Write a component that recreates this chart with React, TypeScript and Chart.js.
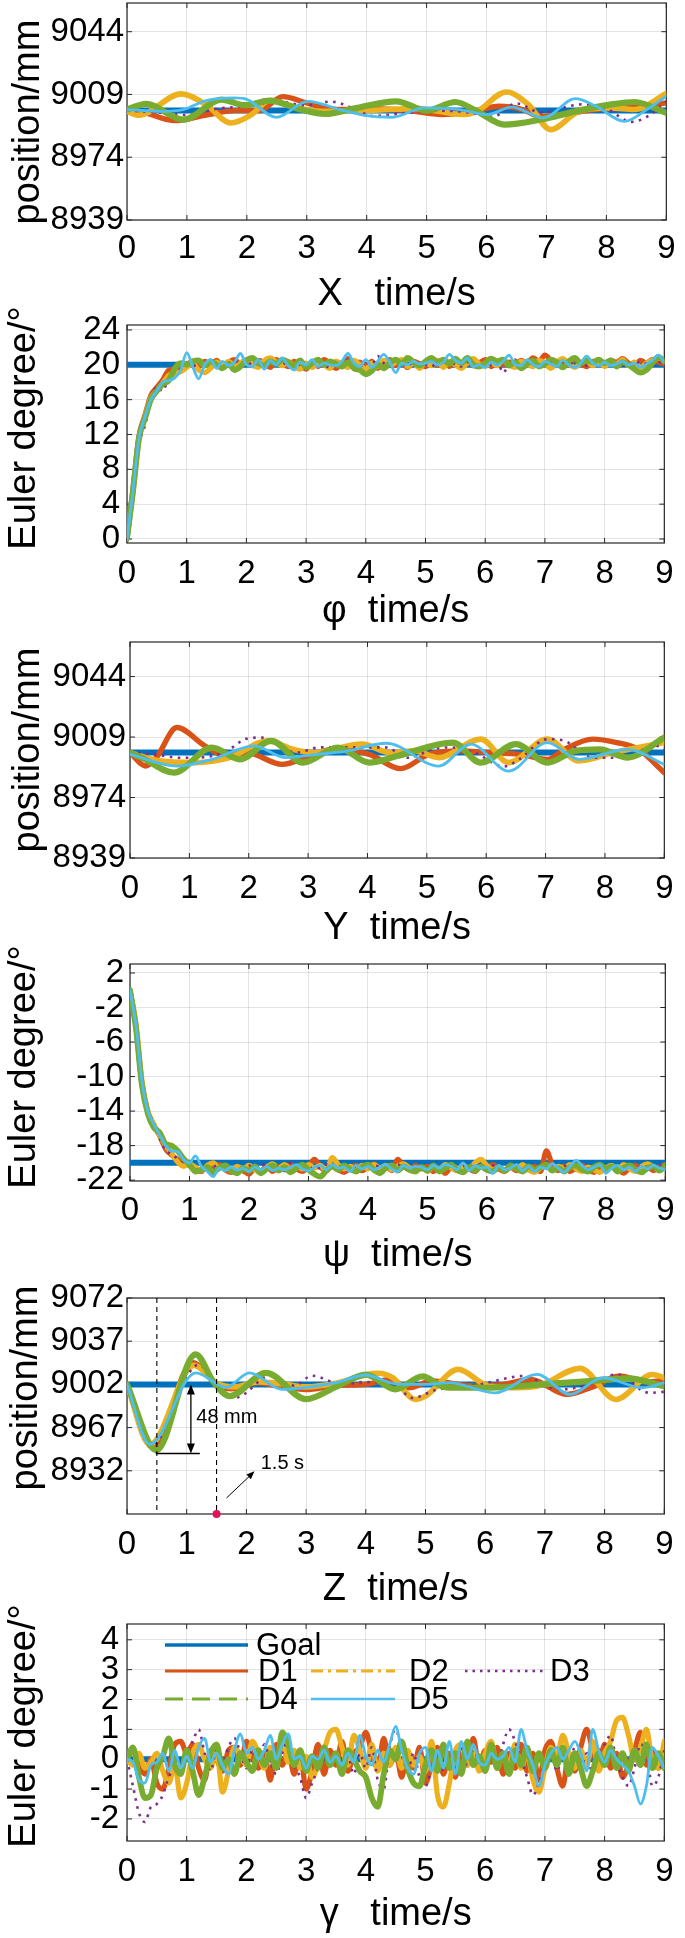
import React, { useEffect, useRef } from "react";
import { Chart, registerables } from "chart.js";

Chart.register(...registerables);

const FONT = '"Liberation Sans", Arial, Helvetica, sans-serif';
const PAGE_W = 685;
const PAGE_H = 1938;
const TOP_PAD = 28;
const TICK_FONT = 33;
const TITLE_FONT = 38;

// ---------- axes ----------
const TIME_TICKS = [0, 1, 2, 3, 4, 5, 6, 7, 8, 9];
const T_MIN = 0;
const T_MAX = 9;
const GRID_STEP = 0.1;

const POS_TICKS_XY = [8939, 8974, 9009, 9044];
const POS_TICKS_Z = [8932, 8967, 9002, 9037, 9072];
const PHI_TICKS = [0, 4, 8, 12, 16, 20, 24];
const PSI_TICKS = [-22, -18, -14, -10, -6, -2, 2];
const GAMMA_TICKS = [-2, -1, 0, 1, 2, 3, 4];

// ---------- goals ----------
const GOAL_X = 9000;
const GOAL_Y = 9000;
const GOAL_Z = 9002;
const GOAL_PHI = 20;
const GOAL_PSI = -20;
const GOAL_GAMMA = 0;

// ---------- X position (time s, mm) ----------
const X_D1 = [[0, 9000], [0.3, 8998.7], [0.8, 8994.4], [1.3, 8997.4], [1.8, 9000], [2.2, 9000], [2.6, 9007.8], [3.0, 9004.3], [3.5, 9000.6], [4.1, 9001], [4.7, 9000], [5.25, 8997.8], [5.8, 8999.6], [6.2, 9002.4], [6.6, 9000.6], [6.9, 8996.8], [7.3, 8998], [7.8, 9000.6], [8.5, 9001.9], [9, 9004.3]];
const X_D2 = [[0, 8999.6], [0.2, 8997.4], [0.9, 9009.3], [1.32, 9003.3], [1.73, 8993.1], [2.08, 8997.8], [2.38, 9005.6], [2.8, 9001.9], [3.25, 8999.6], [4.1, 9000.2], [4.85, 9001.1], [5.6, 8997.8], [5.84, 8999.6], [6.33, 9010.4], [6.7, 9003.3], [7.07, 8989.4], [7.54, 8999.6], [8.06, 9001.5], [8.47, 9000.6], [9, 9009.5]];
const X_D3 = [[0, 9000], [0.5, 8999], [1.0, 8997.5], [1.5, 9001], [2.0, 9002.5], [2.5, 9005], [3.0, 9003], [3.4, 9005], [3.8, 9001], [4.1, 8997], [4.6, 8998.5], [5.2, 9000], [5.7, 8999], [6.1, 8996.5], [6.5, 9004], [6.9, 8999], [7.6, 9003.5], [8.0, 9001], [8.42, 8993.7], [8.7, 8997], [9, 9005]];
const X_D4 = [[0, 9000.6], [0.32, 9003.7], [0.94, 8995], [1.58, 9006.1], [1.96, 9003], [2.38, 9005.6], [2.9, 9000.6], [3.3, 8998.1], [3.84, 9001.5], [4.49, 9005.2], [5.0, 9000], [5.48, 9004.8], [5.84, 8999.6], [6.3, 8992.2], [6.9, 8995], [7.54, 9000], [8.06, 9003.3], [8.47, 9004.8], [9, 8998.7]];
const X_D5 = [[0, 9000.6], [0.56, 8999.6], [0.94, 9000.6], [1.32, 9005.6], [1.79, 9007.1], [2.0, 9006.3], [2.49, 8996.3], [3.02, 9005.2], [3.55, 9000.6], [3.96, 8997.4], [4.43, 8996.3], [4.96, 9001.5], [5.54, 9000.6], [6.01, 8997.8], [6.42, 9001.9], [6.95, 8995.9], [7.48, 9006.7], [7.83, 9002.4], [8.3, 8994], [8.65, 9000], [9, 9008]];

// ---------- Y position ----------
const Y_D1 = [[0, 9000], [0.26, 8992.2], [0.44, 8997], [0.79, 9014.5], [1.26, 9003.9], [1.62, 8998], [1.97, 9000], [2.56, 8993.2], [3.09, 8999], [3.44, 9001.9], [4.03, 8999], [4.56, 8990.7], [5.03, 8999], [5.56, 9001], [6.03, 9000], [6.56, 8999], [7.03, 8996.1], [7.32, 9001.9], [7.79, 9007.8], [8.2, 9005.8], [8.56, 9001.9], [9, 8988.4]];
const Y_D2 = [[0, 9000], [0.5, 8995.2], [1.09, 8994.2], [1.68, 8997.1], [2.32, 9006.8], [2.74, 9001.9], [3.09, 9000], [3.91, 9004.9], [4.38, 9000], [4.79, 9001], [5.2, 8997.1], [5.91, 9007.8], [6.38, 8994.2], [7.03, 9007.8], [7.56, 8995.2], [8.15, 9000], [9, 9005.8]];
const Y_D3 = [[0, 9000], [0.4, 8999], [0.85, 8997], [1.3, 8997.5], [1.68, 9002], [1.94, 9007.8], [2.2, 9008.7], [2.8, 9000], [3.2, 9003], [3.9, 9003], [4.3, 9003], [4.7, 8997], [5.1, 9002], [5.4, 9003], [5.8, 9000], [6.3, 8992], [6.55, 8996], [7.03, 9007.8], [7.3, 9007], [7.8, 8997], [8.3, 8997], [8.85, 9004], [9, 9002]];
const Y_D4 = [[0, 9000], [0.2, 8997], [0.74, 8988.4], [1.38, 9002.9], [1.85, 8996.1], [2.38, 9006.8], [2.91, 8994.2], [3.5, 9002.9], [4.03, 8994.2], [4.5, 8998], [5.44, 9005.8], [5.91, 8994.2], [6.5, 9004.9], [7.03, 8994.2], [7.5, 9001], [7.91, 9001.9], [8.38, 8997.1], [9, 9008.7]];
const Y_D5 = [[0, 8999], [0.79, 8992.2], [1.38, 8996.1], [2.09, 9003.9], [2.62, 8997.1], [3.15, 8999], [3.6, 9000.5], [4.32, 9005.4], [5.2, 8992.2], [5.74, 9004.9], [6.38, 8989.3], [7.03, 9005.8], [7.56, 8996.1], [8.38, 9001.9], [9, 8993.2]];

// ---------- Z position ----------
const Z_D1 = [[0, 9002], [0.43, 8951], [1.1, 9019.6], [1.5, 9002], [1.75, 8998.5], [2.2, 9003.5], [2.5, 9001], [3.0, 8997.9], [3.5, 9001], [4.0, 9002], [4.4, 9006], [4.72, 8999.3], [5.11, 9004.7], [5.83, 9000.6], [6.3, 9002], [6.76, 9006], [7.37, 8993.9], [7.8, 9000], [8.25, 9008.8], [8.7, 9004], [9, 9005.2]];
const Z_D2 = [[0, 9002], [0.38, 8953.3], [1.12, 9017.4], [1.5, 9003], [1.8, 9000], [2.2, 9004], [2.6, 9002.5], [3.0, 9000], [3.5, 9003], [4.2, 9011], [4.45, 9007.4], [4.83, 8989.8], [5.0, 8992.5], [5.55, 9014.2], [5.99, 9002], [6.38, 8999.3], [6.87, 9000.6], [7.59, 9015], [8.19, 8989.8], [8.8, 9010], [9, 9007.4]];
const Z_D3 = [[0, 9002], [0.4, 8952], [1.2, 9018], [1.5, 9002], [1.83, 8991.6], [2.4, 9009], [2.8, 9001], [3.1, 9009], [3.6, 9002], [4.0, 9004], [4.5, 9001], [4.78, 8991], [5.17, 8997.5], [5.9, 9002], [6.65, 9008.8], [7.09, 8999.3], [7.3, 8998], [7.8, 9003], [8.19, 9010], [8.75, 8995.2], [9, 8996]];
const Z_D4 = [[0, 9002], [0.49, 8948.6], [1.15, 9026.4], [1.45, 9004], [1.72, 8992.5], [2.33, 9011.4], [3.0, 8990], [3.5, 9000], [4.0, 9010], [4.5, 8998], [4.95, 9008.5], [5.3, 9000], [5.55, 8999.3], [6.1, 8999.3], [6.93, 9002], [7.75, 9004.7], [8.4, 9006.9], [9, 9000.6]];
const Z_D5 = [[0, 9002], [0.38, 8953.3], [1.15, 9011.4], [1.66, 8999.6], [2.05, 9011.4], [2.6, 8997.9], [3.5, 9003.4], [4.0, 9009.6], [4.5, 9002.5], [5.0, 9002], [5.39, 9003.4], [6.16, 8995.2], [6.87, 9010.1], [7.42, 8993.9], [7.97, 9007.4], [8.63, 8999.3], [9, 9003.4]];

// ---------- phi (deg), sampled every 0.1 s ----------
const PHI_D1 = [
  0, 5.8, 11.8, 14.2, 16.5, 17.4, 18.3, 19.4, 19.5, 19.8,
  20.1, 20.3, 19.8, 20.4, 20.0, 20.5, 19.8, 20.3, 20.6, 20.1,
  20.4, 19.9, 20.5, 20.2, 19.7, 20.6, 20.2, 19.8, 20.4, 20.0,
  19.5, 20.3, 19.8, 20.6, 20.1, 19.6, 20.2, 20.7, 19.9, 20.3,
  19.8, 20.4, 19.6, 20.2, 20.6, 19.9, 20.3, 19.7, 20.4, 20.1,
  19.8, 20.5, 20.0, 20.6, 19.8, 20.3, 20.0, 20.5, 19.9, 20.2,
  20.6, 19.8, 20.4, 20.0, 20.3, 19.9, 20.5, 20.2, 20.8, 20.4,
  21.1, 20.5, 19.9, 20.3, 20.0, 20.6, 20.1, 19.8, 20.4, 20.2,
  20.0, 20.5, 20.3, 20.7, 20.2, 19.9, 20.5, 20.2, 20.6, 20.3,
  20.1,
];
const PHI_D2 = [
  0, 5.2, 11.2, 14.0, 16.2, 17.0, 17.9, 18.8, 19.0, 19.2,
  19.7, 20.2, 19.4, 19.1, 19.6, 20.3, 19.9, 20.4, 19.8, 20.2,
  20.6, 20.0, 19.7, 20.5, 20.8, 20.3, 19.9, 20.4, 19.8, 19.5,
  20.2, 19.7, 20.3, 20.0, 19.6, 20.4, 20.1, 19.7, 20.5, 20.0,
  19.5, 20.2, 19.8, 20.5, 19.9, 20.3, 20.6, 19.8, 20.2, 19.6,
  20.3, 19.9, 20.5, 19.7, 20.4, 20.0, 19.6, 20.2, 20.7, 20.1,
  19.8, 20.3, 19.9, 20.6, 20.0, 19.7, 20.4, 20.1, 19.8, 20.5,
  20.2, 19.6, 20.3, 20.7, 20.1, 19.7, 20.2, 20.5, 19.9, 20.3,
  19.8, 20.4, 20.1, 20.6, 19.9, 20.3, 19.7, 20.2, 20.5, 20.8,
  20.4,
];
const PHI_D3 = [
  0, 5.0, 10.8, 13.0, 15.8, 17.5, 17.0, 18.6, 19.1, 19.5,
  20.0, 19.8, 20.2, 19.9, 20.3, 20.0, 19.7, 20.2, 20.5, 20.0,
  19.8, 20.3, 20.0, 19.7, 20.4, 20.1, 20.3, 19.9, 20.2, 20.0,
  19.8, 20.2, 20.5, 20.0, 19.7, 20.3, 20.1, 20.6, 20.0, 19.8,
  20.2, 20.0, 21.0, 20.2, 19.8, 20.4, 20.0, 19.9, 20.3, 20.1,
  20.0, 19.8, 20.3, 20.1, 20.5, 20.0, 19.8, 20.3, 20.1, 19.9,
  20.2, 20.0, 20.4, 19.1, 20.1, 20.6, 19.9, 20.2, 20.0, 20.3,
  19.9, 20.2, 19.8, 20.1, 20.4, 20.0, 20.2, 19.9, 20.3, 20.1,
  20.0, 20.3, 20.1, 19.9, 20.2, 20.0, 20.4, 20.1, 19.9, 20.3,
  20.2,
];
const PHI_D4 = [
  0, 5.5, 11.6, 13.8, 16.0, 17.0, 17.8, 18.2, 19.6, 20.2,
  20.0, 20.4, 20.5, 19.9, 20.4, 20.0, 19.6, 20.1, 19.4, 19.8,
  20.5, 20.8, 20.2, 19.9, 20.4, 20.1, 20.6, 20.3, 19.9, 20.5,
  19.7, 20.2, 20.6, 20.0, 20.4, 20.1, 19.8, 20.3, 19.6, 19.4,
  18.9, 19.3, 20.0, 19.6, 20.2, 20.6, 20.1, 20.8, 20.3, 19.9,
  20.4, 20.8, 20.3, 20.6, 20.1, 20.7, 20.2, 20.8, 20.0, 19.8,
  20.2, 20.7, 20.4, 20.6, 19.9, 20.3, 19.6, 20.1, 20.5, 19.8,
  20.1, 20.6, 20.3, 19.7, 20.4, 20.8, 20.2, 20.5, 20.3, 20.6,
  20.2, 20.5, 19.8, 20.3, 20.0, 19.5, 19.1, 19.4, 20.2, 20.9,
  20.4,
];
const PHI_D5 = [
  0, 5.5, 11.5, 14.0, 16.0, 17.0, 18.0, 18.2, 18.5, 19.4,
  21.4, 19.8, 18.4, 20.0, 20.6, 19.6, 20.4, 19.9, 20.3, 21.3,
  20.0, 19.8, 20.6, 19.5, 20.5, 20.0, 20.8, 19.9, 19.4, 20.3,
  20.0, 20.6, 19.8, 20.2, 20.0, 19.9, 20.4, 21.3, 20.2, 19.8,
  20.6, 19.7, 20.4, 21.2, 20.3, 19.1, 20.2, 20.0, 20.4, 20.1,
  20.2, 20.4, 20.0, 20.3, 21.2, 20.5, 20.2, 20.8, 19.8, 20.0,
  19.7, 20.3, 20.0, 20.4, 21.1, 20.0, 19.9, 20.6, 20.0, 19.8,
  20.4, 20.1, 19.8, 20.5, 20.0, 19.7, 20.2, 21.0, 20.2, 19.9,
  20.3, 19.9, 20.1, 20.4, 20.0, 20.2, 19.7, 20.1, 20.5, 21.1,
  20.3,
];

// ---------- psi (deg), sampled every 0.1 s ----------
const PSI_D1 = [
  0, -4.2, -10.8, -14.1, -15.7, -16.9, -18.4, -19.1, -19.6, -19.9,
  -20.3, -20.8, -21.0, -20.4, -20.7, -20.2, -20.8, -21.1, -20.5, -20.9,
  -21.3, -20.6, -20.9, -20.4, -21.0, -20.5, -20.8, -20.2, -20.7, -21.0,
  -20.4, -19.6, -20.5, -20.9, -20.3, -20.8, -21.1, -20.6, -20.3, -20.9,
  -20.5, -20.1, -20.8, -20.4, -20.9, -19.6, -20.4, -20.8, -20.3, -20.7,
  -20.4, -21.0, -20.6, -21.2, -20.5, -20.9, -20.3, -20.7, -21.0, -20.4,
  -20.8, -20.2, -20.7, -21.0, -20.5, -20.9, -20.3, -20.8, -20.4, -21.0,
  -18.6, -20.2, -20.9, -20.4, -21.0, -20.6, -20.3, -20.8, -21.1, -20.5,
  -20.9, -20.4, -20.7, -21.2, -20.6, -20.3, -20.8, -20.4, -20.9, -20.5,
  -20.2,
];
const PSI_D2 = [
  0, -3.8, -10.4, -14.0, -15.5, -16.8, -18.0, -18.9, -19.9, -20.4,
  -20.1, -20.5, -20.9, -20.3, -20.0, -20.6, -20.3, -20.9, -20.4, -20.7,
  -20.3, -20.8, -21.2, -20.5, -20.1, -20.6, -20.2, -20.8, -20.4, -20.7,
  -20.2, -20.6, -20.3, -20.9, -19.4, -20.2, -20.7, -20.4, -20.8, -20.3,
  -20.7, -20.2, -20.6, -20.3, -20.8, -20.4, -20.1, -20.6, -20.9, -20.5,
  -21.0, -20.4, -20.8, -20.2, -20.6, -20.9, -20.3, -20.7, -20.0, -19.6,
  -20.3, -20.8, -20.5, -20.9, -20.4, -20.7, -20.2, -20.8, -21.1, -20.6,
  -20.3, -20.8, -20.4, -20.6, -20.2, -20.7, -21.0, -20.5, -20.8, -21.1,
  -20.6, -20.3, -20.8, -20.2, -20.7, -21.0, -20.4, -20.1, -20.5, -20.8,
  -20.6,
];
const PSI_D3 = [
  0, -4.0, -10.6, -13.8, -15.4, -17.2, -18.5, -19.0, -19.5, -19.9,
  -20.4, -20.8, -20.3, -20.9, -20.5, -20.2, -20.7, -20.4, -20.9, -20.5,
  -20.3, -20.6, -20.1, -20.5, -20.8, -20.3, -20.6, -20.0, -20.4, -20.7,
  -20.4, -20.8, -20.5, -20.2, -20.6, -20.3, -20.7, -20.4, -20.5, -20.3,
  -20.6, -20.3, -20.5, -20.8, -20.4, -20.2, -20.6, -20.4, -20.7, -20.3,
  -20.5, -20.8, -20.4, -20.6, -20.3, -20.7, -20.4, -20.2, -20.6, -20.4,
  -20.7, -20.3, -20.5, -20.2, -20.6, -20.4, -20.8, -20.3, -20.5, -20.6,
  -20.2, -20.5, -20.8, -20.4, -20.3, -20.6, -20.4, -20.7, -20.3, -20.5,
  -20.6, -20.3, -20.7, -20.4, -20.5, -20.2, -20.6, -20.4, -20.7, -20.3,
  -20.5,
];
const PSI_D4 = [
  0, -4.4, -11.0, -14.3, -15.9, -16.5, -17.8, -18.0, -18.6, -19.5,
  -20.2, -21.0, -20.8, -20.5, -21.1, -20.6, -20.3, -20.9, -21.2, -20.6,
  -20.9, -20.4, -21.2, -20.7, -20.3, -20.9, -20.5, -21.1, -20.6, -20.2,
  -20.8, -21.3, -21.6, -20.9, -20.4, -20.8, -20.3, -20.7, -21.0, -20.5,
  -20.2, -20.8, -21.2, -20.6, -20.3, -20.9, -20.4, -20.8, -21.0, -20.5,
  -20.9, -20.3, -21.0, -20.6, -20.2, -20.8, -21.1, -20.5, -20.9, -20.4,
  -20.8, -21.0, -20.5, -20.9, -20.3, -20.7, -21.0, -20.4, -20.8, -20.5,
  -20.2, -20.9, -20.6, -21.0, -20.5, -20.3, -20.8, -21.0, -20.5, -20.2,
  -20.7, -20.4, -21.0, -20.6, -20.3, -20.8, -21.1, -20.6, -20.4, -20.9,
  -20.3,
];
const PSI_D5 = [
  0, -4.0, -10.5, -14.0, -15.5, -16.8, -18.0, -18.6, -18.7, -19.6,
  -20.0, -19.2, -20.4, -21.0, -21.6, -20.6, -20.9, -20.5, -20.8, -20.6,
  -21.0, -20.5, -20.8, -20.4, -20.9, -20.6, -20.8, -20.5, -20.2, -20.7,
  -20.9, -20.5, -20.3, -20.8, -20.2, -20.6, -20.5, -21.0, -20.3, -20.7,
  -20.4, -20.8, -20.5, -20.2, -20.7, -21.0, -20.3, -20.6, -20.4, -20.5,
  -20.8, -20.3, -20.6, -20.2, -20.4, -20.8, -20.0, -20.9, -20.3, -20.6,
  -20.5, -21.2, -20.3, -20.8, -20.6, -20.2, -20.9, -20.4, -21.0, -20.5,
  -20.7, -20.1, -20.6, -21.1, -20.4, -19.7, -20.3, -20.8, -20.5, -20.2,
  -21.2, -20.6, -20.3, -20.8, -20.5, -21.0, -20.4, -20.7, -20.3, -20.6,
  -20.8,
];

// ---------- gamma (deg), sampled every 0.1 s ----------
const GAM_D1 = [
  0, 0.3, -0.2, -0.5, 0.0, -0.8, -1.0, -0.3, 0.5, 0.6,
  0.2, 0.5, -0.3, -0.7, 0.3, 0.0, -0.4, 0.3, 0.4, -0.2,
  0.6, 0.1, -0.3, 0.2, -0.7, 0.5, -0.2, 0.3, -0.5, 0.2,
  -1.0, -0.4, 0.5, -0.5, 0.3, -0.2, 0.6, -0.4, 0.2, 0.4,
  0.9, 0.2, -0.3, 0.7, -0.2, 0.3, -0.6, 0.2, -0.3, 0.4,
  -0.8, -0.2, 0.4, -0.5, 0.2, -0.6, 0.5, -0.2, 0.7, -0.3,
  0.3, -0.1, 0.4, -0.5, 0.2, -0.3, 0.5, -0.4, 0.2, -0.7,
  0.3, 0.6, -0.3, -0.9, 0.2, -0.4, 0.4, 1.0, 0.3, -0.2,
  0.5, -0.3, 0.2, -0.6, -0.2, 0.3, 0.9, -0.2, 0.3, -0.3,
  0.1,
];
const GAM_D2 = [
  0, -0.2, 0.2, -0.3, -0.1, 0.2, -0.4, -0.8, -0.2, -1.3,
  -0.8, 0.2, 0.5, 0.0, -0.3, 0.3, -1.1, -0.4, 0.4, 0.1,
  -0.2, 0.6, 0.2, -0.3, 0.4, -0.2, 0.5, -0.1, 0.3, -0.3,
  0.1, -0.6, -0.2, 0.3, 0.9, 1.0, 0.4, -0.2, 0.8, 0.3,
  -0.3, 0.5, -0.4, 0.2, -0.2, 0.4, -0.3, 0.3, -0.2, 0.1,
  -0.4, 0.6, -1.2, -1.6, -0.8, 0.3, 0.5, -0.2, 0.3, -0.4,
  0.2, 0.6, -0.3, 0.2, -0.2, 0.5, -0.3, 0.2, -0.7, -1.1,
  -0.3, 0.4, 0.1, 0.8, 0.2, -0.3, 0.3, -0.2, 0.6, -0.4,
  0.2, 0.6, 1.3, 1.4, 0.8, 0.0, 0.4, 1.0, -0.1, -0.3,
  0.6,
];
const GAM_D3 = [
  0, -0.9, -1.8, -2.1, -1.6, -1.5, -1.2, -0.6, -0.3, -0.1,
  0.3, 0.6, 1.0, 0.2, -0.4, 0.3, -0.2, 0.4, 0.7, 0.2,
  -0.3, 0.3, -0.2, 0.5, -0.1, -0.5, 0.2, 0.6, -0.2, -0.6,
  -1.3, -0.8, -0.3, 0.4, -0.2, 0.3, -0.4, 0.1, -0.5, 0.2,
  -0.3, 0.4, -0.7, -1.0, 0.4, 1.0, 0.3, -0.4, 0.2, -0.6,
  -0.9, -0.3, 0.3, -0.4, 0.1, -0.3, 0.4, -0.2, 0.3, -0.1,
  -0.4, 0.2, -0.3, 0.5, 1.0, 0.6, 0.0, -0.6, -1.2, -0.8,
  -0.2, 0.3, -0.4, 0.1, -0.2, 0.4, -0.3, 0.2, -0.5, 0.3,
  0.5, 0.8, -0.1, -0.6, -0.9, -0.3, 0.5, 0.2, -0.9, -0.6,
  0.3,
];
const GAM_D4 = [
  0, 0.4, -0.6, -1.3, -1.2, -0.3, 0.1, 0.7, -0.2, -0.5,
  0.3, -0.4, -1.2, -0.6, 0.2, 0.5, -0.3, 0.0, -0.5, 0.2,
  -0.1, -0.4, 0.3, -0.2, 0.2, -0.3, 0.9, 0.5, -0.2, 0.3,
  -0.4, 0.1, -0.3, 0.4, -0.2, 0.2, -0.5, 0.3, 0.0, -0.4,
  -0.6, -1.3, -1.6, -0.5, 0.3, 0.0, 0.6, -0.3, -0.8, -0.9,
  -0.2, 0.3, -0.4, 0.5, -0.3, 0.2, -0.5, 0.6, -0.2, 0.1,
  -0.4, 0.5, -0.3, 0.2, -0.5, 0.3, -0.2, 0.4, -0.4, 0.2,
  -0.3, 0.3, -0.2, 0.4, -0.5, 0.2, -0.3, -0.9, -0.4, 0.2,
  -0.2, 0.4, -0.3, 0.2, -0.4, 0.3, -0.2, 0.5, -0.3, 0.2,
  -0.3,
];
const GAM_D5 = [
  0, -0.1, -0.7, -0.8, -0.2, -0.1, 0.2, -0.4, 0.3, -0.3,
  0.1, -0.3, 0.4, 0.7, -0.1, 0.2, -0.2, -0.5, 0.3, 0.85,
  0.2, 0.4, 0.0, 0.3, 0.8, 0.0, 0.5, 0.85, 0.0, 0.1,
  -0.3, 0.1, 0.0, 0.3, -0.1, 0.1, -0.2, 0.2, -0.1, 0.8,
  0.1, -0.2, 0.3, -0.1, 0.5, 1.1, 0.3, -0.3, -0.5, 0.2,
  0.4, -0.4, 0.3, -0.3, 0.6, -0.5, 0.6, 0.0, 0.5, -0.1,
  -0.2, 0.2, 0.0, 0.1, 0.4, -0.1, 1.0, 0.3, -0.2, -0.9,
  -0.2, 0.2, 0.4, 0.0, 0.3, 0.6, 0.2, -0.4, 1.0, 0.3,
  -0.1, 0.3, 0.0, -0.2, -0.4, -0.9, -1.5, -0.9, 0.4, 0.1,
  -0.3,
];

// ---------- Z annotation values ----------
const Z_GUIDE_TIMES = [0.5, 1.5];
const Z_OVERSHOOT_T = 1.07;
const Z_OVERSHOOT_TOP = 9002;
const Z_OVERSHOOT_BOTTOM = 8946;
const Z_BASE_FROM_T = 0.48;
const Z_BASE_TO_T = 1.22;
const Z_LABEL_DROP = "48 mm";
const Z_LABEL_DROP_AT = [1.16, 8975];
const Z_LABEL_TIME = "1.5 s";
const Z_LABEL_TIME_AT = [2.24, 8938];
const Z_POINTER_FROM = [1.667, 8910];
const Z_POINTER_TO = [2.135, 8931.6];
const Z_SETTLE_T = 1.5;
const Z_SETTLE_V = 8897;

// ---------- styles ----------
const SERIES_NAMES = ["Goal", "D1", "D2", "D3", "D4", "D5"];
const SERIES_STYLE: Record<string, any> = {
  Goal: { color: "#0072BD", width: 6, dash: [], order: 6 },
  D1: { color: "#D95319", width: 5.4, dash: [], order: 5 },
  D2: { color: "#EDB120", width: 5.6, dash: [], order: 4 },
  D3: { color: "#7E2F8E", width: 2.6, dash: [2.6, 5.4], order: 3 },
  D4: { color: "#77AC30", width: 6.2, dash: [], order: 2 },
  D5: { color: "#4DBEEE", width: 2.8, dash: [], order: 1 },
};
const NOISY_WIDTH: Record<string, number> = { Goal: 6, D1: 5.2, D2: 5.2, D3: 2.6, D4: 5.8, D5: 2.8 };
const LEGEND_STYLE: Record<string, any> = {
  Goal: { width: 3.5, dash: [] },
  D1: { width: 2.8, dash: [] },
  D2: { width: 2.8, dash: [12, 5, 3, 5] },
  D3: { width: 2.5, dash: [2.5, 5] },
  D4: { width: 3, dash: [18, 9] },
  D5: { width: 2.6, dash: [] },
};
// legend layout in page pixels
const LEGEND_LAYOUT = [
  { name: "Goal", x1: 165, x2: 248, y: 1645, tx: 256 },
  { name: "D1", x1: 165, x2: 248, y: 1671, tx: 258 },
  { name: "D2", x1: 311, x2: 395, y: 1671, tx: 409 },
  { name: "D3", x1: 465, x2: 544, y: 1671, tx: 550 },
  { name: "D4", x1: 165, x2: 248, y: 1699, tx: 258 },
  { name: "D5", x1: 311, x2: 395, y: 1699, tx: 409 },
];

function pairsToPoints(p: number[][]) {
  return p.map(([x, y]) => ({ x, y }));
}
function gridToPoints(v: number[]) {
  return v.map((y, i) => ({ x: Math.round(i * GRID_STEP * 100) / 100, y }));
}
function goalPoints(g: number) {
  return [{ x: T_MIN, y: g }, { x: T_MAX, y: g }];
}

function buildDatasets(goal: number, series: any[], mode: "pairs" | "grid") {
  const conv: any = mode === "grid" ? gridToPoints : pairsToPoints;
  const all = [goalPoints(goal), ...series.map((s) => conv(s))];
  return all.map((data, i) => {
    const name = SERIES_NAMES[i];
    const st = SERIES_STYLE[name];
    return {
      label: name,
      data,
      borderColor: st.color,
      backgroundColor: st.color,
      borderWidth: mode === "grid" ? NOISY_WIDTH[name] : st.width,
      borderDash: st.dash,
      borderCapStyle: name === "D3" ? "butt" : "round",
      borderJoinStyle: "round",
      pointRadius: 0,
      fill: false,
      cubicInterpolationMode: "monotone",
      order: st.order,
    };
  });
}

const PANELS: any[] = [
  {
    key: "X", plot: { left: 127, right: 674, top: 3, bottom: 220 }, yMin: 8939, yMax: 9060, yTicks: POS_TICKS_XY,
    yTickPad: 3, xTickPad: 9.5, titleGap: 75, xTitle: "X   time/s", yTitle: "position/mm", yTitleX: 28.5, yTitleY: 122,
    datasets: buildDatasets(GOAL_X, [X_D1, X_D2, X_D3, X_D4, X_D5], "pairs"),
  },
  {
    key: "phi", plot: { left: 127, right: 674, top: 325, bottom: 543 }, yMin: -0.46, yMax: 24.57, yTicks: PHI_TICKS,
    yTickPad: 7, xTickPad: 11.5, titleGap: 69, xTitle: "φ  time/s", yTitle: "Euler degree/°", yTitleX: 24.5, yTitleY: 428,
    datasets: buildDatasets(GOAL_PHI, [PHI_D1, PHI_D2, PHI_D3, PHI_D4, PHI_D5], "grid"),
  },
  {
    key: "Y", plot: { left: 130, right: 676, top: 642, bottom: 858 }, yMin: 8939, yMax: 9064, yTicks: POS_TICKS_XY,
    yTickPad: 4, xTickPad: 11.5, titleGap: 71, xTitle: "Y  time/s", yTitle: "position/mm", yTitleX: 28.5, yTitleY: 750,
    datasets: buildDatasets(GOAL_Y, [Y_D1, Y_D2, Y_D3, Y_D4, Y_D5], "pairs"),
  },
  {
    key: "psi", plot: { left: 130, right: 676, top: 964, bottom: 1181 }, yMin: -22.1, yMax: 3.04, yTicks: PSI_TICKS,
    yTickPad: 6, xTickPad: 10.5, titleGap: 75, xTitle: "ψ  time/s", yTitle: "Euler degree/°", yTitleX: 24.5, yTitleY: 1067,
    datasets: buildDatasets(GOAL_PSI, [PSI_D1, PSI_D2, PSI_D3, PSI_D4, PSI_D5], "grid"),
  },
  {
    key: "Z", plot: { left: 127, right: 674, top: 1298, bottom: 1514 }, yMin: 8897, yMax: 9072, yTicks: POS_TICKS_Z,
    yTickPad: 3, xTickPad: 11.5, titleGap: 76, xTitle: "Z  time/s", yTitle: "position/mm", yTitleX: 26.5, yTitleY: 1388,
    datasets: [
      ...buildDatasets(GOAL_Z, [Z_D1, Z_D2, Z_D3, Z_D4, Z_D5], "pairs"),
      {
        label: "settle", data: [{ x: Z_SETTLE_T, y: Z_SETTLE_V }], showLine: false, pointRadius: 4, pointBorderWidth: 0,
        pointBackgroundColor: "#E3135A", borderColor: "#E3135A", backgroundColor: "#E3135A", clip: false, order: 0,
      },
    ],
    annotate: true,
  },
  {
    key: "gamma", plot: { left: 127, right: 674, top: 1624, bottom: 1841 }, yMin: -2.74, yMax: 4.53, yTicks: GAMMA_TICKS,
    yTickPad: 8, xTickPad: 11.5, titleGap: 74, xTitle: "γ   time/s", yTitle: "Euler degree/°", yTitleX: 24.5, yTitleY: 1726,
    datasets: buildDatasets(GOAL_GAMMA, [GAM_D1, GAM_D2, GAM_D3, GAM_D4, GAM_D5], "grid"),
    legend: true,
  },
];

const framePlugin = {
  id: "frame",
  beforeDatasetsDraw(chart: any) {
    const { ctx, chartArea: a, scales } = chart;
    ctx.save();
    ctx.strokeStyle = "#262626";
    ctx.lineWidth = 1.2;
    ctx.strokeRect(a.left, a.top, a.right - a.left, a.bottom - a.top);
    ctx.lineWidth = 1;
    const L = 5;
    ctx.beginPath();
    scales.x.ticks.forEach((t: any) => {
      const px = scales.x.getPixelForValue(t.value);
      ctx.moveTo(px, a.bottom); ctx.lineTo(px, a.bottom - L);
      ctx.moveTo(px, a.top); ctx.lineTo(px, a.top + L);
    });
    scales.y.ticks.forEach((t: any) => {
      const py = scales.y.getPixelForValue(t.value);
      ctx.moveTo(a.left, py); ctx.lineTo(a.left + L, py);
      ctx.moveTo(a.right, py); ctx.lineTo(a.right - L, py);
    });
    ctx.stroke();
    ctx.restore();
  },
};

const yTitlePlugin = {
  id: "yTitle",
  afterDraw(chart: any, _args: any, opts: any) {
    const { ctx } = chart;
    ctx.save();
    ctx.translate(opts.x, opts.y);
    ctx.rotate(-Math.PI / 2);
    ctx.font = `${TITLE_FONT}px ${FONT}`;
    ctx.fillStyle = "#000";
    ctx.textAlign = "center";
    ctx.textBaseline = "middle";
    ctx.fillText(opts.text, 0, 0);
    ctx.restore();
  },
};

function arrowHead(ctx: any, x0: number, y0: number, x1: number, y1: number, len: number, half: number) {
  const ang = Math.atan2(y1 - y0, x1 - x0);
  ctx.beginPath();
  ctx.moveTo(x1, y1);
  ctx.lineTo(x1 - len * Math.cos(ang) + half * Math.sin(ang), y1 - len * Math.sin(ang) - half * Math.cos(ang));
  ctx.lineTo(x1 - len * Math.cos(ang) - half * Math.sin(ang), y1 - len * Math.sin(ang) + half * Math.cos(ang));
  ctx.closePath();
  ctx.fill();
}

const zAnnotationPlugin = {
  id: "zNotes",
  afterDatasetsDraw(chart: any) {
    const { ctx, chartArea: a, scales } = chart;
    const X = (t: number) => scales.x.getPixelForValue(t);
    const Y = (v: number) => scales.y.getPixelForValue(v);
    ctx.save();
    ctx.strokeStyle = "#000";
    ctx.fillStyle = "#000";
    ctx.lineWidth = 1.1;
    ctx.setLineDash([5, 4]);
    Z_GUIDE_TIMES.forEach((t) => {
      ctx.beginPath();
      ctx.moveTo(X(t), a.top);
      ctx.lineTo(X(t), a.bottom);
      ctx.stroke();
    });
    ctx.setLineDash([]);
    ctx.lineWidth = 1.3;
    const ax = X(Z_OVERSHOOT_T);
    const yTop = Y(Z_OVERSHOOT_TOP);
    const yBot = Y(Z_OVERSHOOT_BOTTOM);
    ctx.beginPath();
    ctx.moveTo(ax, yTop + 6);
    ctx.lineTo(ax, yBot - 6);
    ctx.stroke();
    arrowHead(ctx, ax, yBot, ax, yTop, 10, 4);
    arrowHead(ctx, ax, yTop, ax, yBot, 10, 4);
    ctx.beginPath();
    ctx.moveTo(X(Z_BASE_FROM_T), yBot);
    ctx.lineTo(X(Z_BASE_TO_T), yBot);
    ctx.stroke();
    ctx.lineWidth = 1;
    const px0 = X(Z_POINTER_FROM[0]), py0 = Y(Z_POINTER_FROM[1]);
    const px1 = X(Z_POINTER_TO[0]), py1 = Y(Z_POINTER_TO[1]);
    ctx.beginPath();
    ctx.moveTo(px0, py0);
    ctx.lineTo(px1 - 4, py1 + 4);
    ctx.stroke();
    arrowHead(ctx, px0, py0, px1, py1, 8, 3.2);
    ctx.font = `20px ${FONT}`;
    ctx.textAlign = "left";
    ctx.textBaseline = "middle";
    ctx.fillText(Z_LABEL_DROP, X(Z_LABEL_DROP_AT[0]), Y(Z_LABEL_DROP_AT[1]));
    ctx.fillText(Z_LABEL_TIME, X(Z_LABEL_TIME_AT[0]), Y(Z_LABEL_TIME_AT[1]));
    ctx.restore();
  },
};

const legendPlugin = {
  id: "lineLegend",
  afterDatasetsDraw(chart: any, _args: any, opts: any) {
    const { ctx } = chart;
    const off = opts.offsetY;
    ctx.save();
    LEGEND_LAYOUT.forEach((it) => {
      const ds = chart.data.datasets.find((d: any) => d.label === it.name);
      const ls = LEGEND_STYLE[it.name];
      ctx.strokeStyle = ds.borderColor;
      ctx.lineWidth = ls.width;
      ctx.setLineDash(ls.dash);
      ctx.lineCap = "butt";
      ctx.beginPath();
      ctx.moveTo(it.x1, it.y - off);
      ctx.lineTo(it.x2, it.y - off);
      ctx.stroke();
      ctx.setLineDash([]);
      ctx.fillStyle = "#000";
      ctx.font = `31px ${FONT}`;
      ctx.textAlign = "left";
      ctx.textBaseline = "middle";
      ctx.fillText(it.name, it.tx, it.y - off + 1);
    });
    ctx.restore();
  },
};

function Panel({ cfg }: { cfg: any }) {
  const ref = useRef<HTMLCanvasElement | null>(null);
  const canvasTop = cfg.plot.top - TOP_PAD;
  const xAxisH = cfg.titleGap + 24;
  const canvasH = TOP_PAD + (cfg.plot.bottom - cfg.plot.top) + xAxisH;

  useEffect(() => {
    if (!ref.current) return;
    const plugins: any[] = [framePlugin, yTitlePlugin];
    if (cfg.annotate) plugins.push(zAnnotationPlugin);
    if (cfg.legend) plugins.push(legendPlugin);
    const gridColor = "rgba(0,0,0,0.11)";
    const chart = new Chart(ref.current, {
      type: "line",
      data: { datasets: cfg.datasets },
      plugins,
      options: {
        animation: false,
        responsive: false,
        maintainAspectRatio: false,
        devicePixelRatio: 1,
        events: [],
        layout: { padding: { top: TOP_PAD, right: PAGE_W - cfg.plot.right, bottom: 0, left: 0 } },
        plugins: {
          legend: { display: false },
          tooltip: { enabled: false },
          yTitle: { text: cfg.yTitle, x: cfg.yTitleX, y: cfg.yTitleY - canvasTop },
          lineLegend: { offsetY: canvasTop },
        } as any,
        scales: {
          x: {
            type: "linear",
            min: T_MIN,
            max: T_MAX,
            afterBuildTicks: (s: any) => { s.ticks = TIME_TICKS.map((v) => ({ value: v })); },
            afterFit: (s: any) => { s.height = xAxisH; },
            ticks: {
              font: { family: FONT, size: TICK_FONT },
              color: "#000",
              padding: cfg.xTickPad,
              maxRotation: 0,
              autoSkip: false,
              callback: (v: any) => String(v),
            },
            grid: { color: gridColor, lineWidth: 1, drawTicks: false },
            border: { display: false },
            title: {
              display: true,
              text: cfg.xTitle,
              font: { family: FONT, size: TITLE_FONT },
              color: "#000",
              padding: { top: 0, bottom: 1.2 },
            },
          },
          y: {
            type: "linear",
            min: cfg.yMin,
            max: cfg.yMax,
            afterBuildTicks: (s: any) => { s.ticks = cfg.yTicks.map((v: number) => ({ value: v })); },
            afterFit: (s: any) => { s.width = cfg.plot.left; },
            ticks: {
              font: { family: FONT, size: TICK_FONT },
              color: "#000",
              padding: cfg.yTickPad,
              autoSkip: false,
              callback: (v: any) => String(v),
            },
            grid: { color: gridColor, lineWidth: 1, drawTicks: false },
            border: { display: false },
          },
        },
      } as any,
    });
    return () => chart.destroy();
  }, []);

  return (
    <canvas
      ref={ref}
      width={PAGE_W}
      height={canvasH}
      style={{ position: "absolute", left: 0, top: canvasTop, width: PAGE_W, height: canvasH, display: "block" }}
    />
  );
}

export default function App() {
  return (
    <div
      style={{
        position: "absolute",
        left: 0,
        top: 0,
        width: PAGE_W,
        height: PAGE_H,
        overflow: "hidden",
        background: "#fff",
      }}
    >
      {PANELS.map((p) => (
        <Panel key={p.key} cfg={p} />
      ))}
    </div>
  );
}
